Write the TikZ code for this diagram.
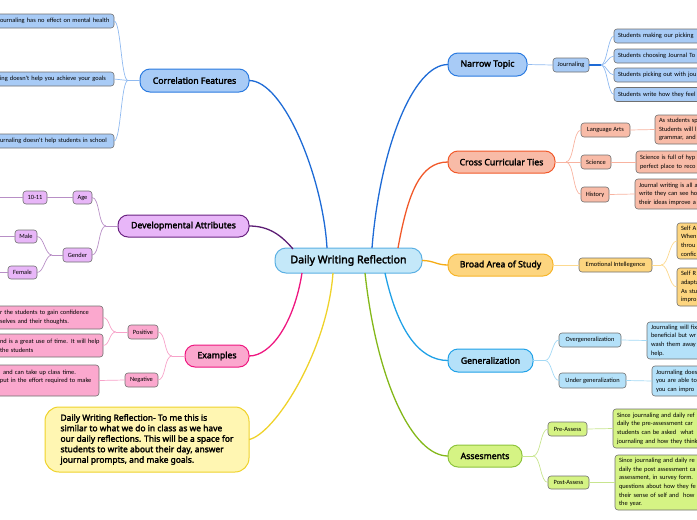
\documentclass[tikz,border=0pt]{standalone}
\usepackage{fontspec}
\setmainfont{Noto Sans}
\newfontfamily\boldf{Noto Sans}[FakeBold=2.4]
\newfontfamily\smallf{Carlito}
\usetikzlibrary{calc}
\definecolor{centralfill}{HTML}{C4E8F9}
\definecolor{centraldraw}{HTML}{5BB0E3}
\definecolor{bluefill}{HTML}{A8CBF6}
\definecolor{bluedraw}{HTML}{2B7BE0}
\definecolor{blueline}{HTML}{1E6BD6}
\definecolor{bluesub}{HTML}{90BAF0}
\definecolor{purplefill}{HTML}{E8B6F8}
\definecolor{purpledraw}{HTML}{6A2381}
\definecolor{purpleline}{HTML}{5C1D74}
\definecolor{purplesub}{HTML}{B88FC6}
\definecolor{pinkfill}{HTML}{FBA8CE}
\definecolor{pinkdraw}{HTML}{EE1780}
\definecolor{pinksub}{HTML}{F7A2C9}
\definecolor{orangefill}{HTML}{F8BBA7}
\definecolor{orangedraw}{HTML}{F1592A}
\definecolor{orangesub}{HTML}{F8B3A0}
\definecolor{goldfill}{HTML}{FDD57F}
\definecolor{golddraw}{HTML}{F6B52A}
\definecolor{goldline}{HTML}{F5AC16}
\definecolor{goldsub}{HTML}{FCD98F}
\definecolor{cyanfill}{HTML}{B4E1F9}
\definecolor{cyandraw}{HTML}{20A1E7}
\definecolor{cyansub}{HTML}{A3D9F5}
\definecolor{greenfill}{HTML}{D5F384}
\definecolor{greendraw}{HTML}{8DC43C}
\definecolor{greenline}{HTML}{84B81A}
\definecolor{greensub}{HTML}{C8E58F}
\definecolor{notefill}{HTML}{FFF6B2}
\definecolor{notedraw}{HTML}{EFD22A}
\definecolor{subborder}{HTML}{707070}
\tikzset{
  every node/.style={inner sep=0pt, outer sep=0pt},
  centralbox/.style={draw=centraldraw, fill=centralfill, line width=1pt, rounded corners=11pt,
    minimum width=147pt, minimum height=25pt, font=\boldf\fontsize{10.6}{12}\selectfont},
  mainbox/.style={draw, line width=1pt, rounded corners=10pt, minimum height=22pt,
    font=\boldf\fontsize{8.7}{10}\selectfont},
  subbox/.style={draw=subborder, line width=0.6pt, rounded corners=3pt, minimum height=14pt,
    inner xsep=4pt, font=\smallf\fontsize{6.4}{8.6}\selectfont},
  bluem/.style={mainbox, fill=bluefill, draw=bluedraw},
  blues/.style={subbox, fill=bluefill},
  purplem/.style={mainbox, fill=purplefill, draw=purpledraw},
  purples/.style={subbox, fill=purplefill},
  pinkm/.style={mainbox, fill=pinkfill, draw=pinkdraw},
  pinks/.style={subbox, fill=pinkfill},
  orangem/.style={mainbox, fill=orangefill, draw=orangedraw},
  oranges/.style={subbox, fill=orangefill},
  goldm/.style={mainbox, fill=goldfill, draw=golddraw},
  golds/.style={subbox, fill=goldfill},
  cyanm/.style={mainbox, fill=cyanfill, draw=cyandraw},
  cyans/.style={subbox, fill=cyanfill},
  greenm/.style={mainbox, fill=greenfill, draw=greendraw},
  greens/.style={subbox, fill=greenfill},
  notebox/.style={draw=notedraw, fill=notefill, line width=1pt, rounded corners=14pt,
    align=left, minimum width=204pt, minimum height=65pt,
    font=\boldf\fontsize{8.45}{10.5}\selectfont},
  rightcut/.style={anchor=west, align=left, text width=#1},
  leftcut/.style={anchor=east, align=left, text width=#1},
  mainline/.style={line width=1.3pt},
  subline/.style={line width=0.7pt},
}
\begin{document}
\begin{tikzpicture}[x=1pt,y=-1pt]
\useasboundingbox (0,0) rectangle (697,520);
\clip (0,0) rectangle (697,520);

% central
\node[centralbox] (c) at (348.5,260.5) {Daily Writing Reflection};

% Correlation Features
\node[bluem, minimum width=109pt, minimum height=23pt] (cf) at (194.5,80.5) {Correlation Features};
\node[blues, leftcut=110pt] (cf1) at (114,21) {\mbox{ournaling has no effect on mental health}};
\node[blues, leftcut=110pt] (cf2) at (114,79) {\mbox{ing doesn't help you achieve your goals}};
\node[blues, leftcut=110pt] (cf3) at (114,141) {\mbox{urnaling doesn't help students in school}};

% Narrow Topic
\node[bluem, minimum width=79pt, minimum height=23pt] (nt) at (487.5,64.5) {Narrow Topic};
\node[blues, minimum width=36pt] (jr) at (571,65) {Journaling};
\node[blues, rightcut=100pt] (jr1) at (614,36) {Students making our picking};
\node[blues, rightcut=100pt] (jr2) at (614,56) {Students choosing Journal To};
\node[blues, rightcut=100pt] (jr3) at (614,75) {Students picking out with jou};
\node[blues, rightcut=100pt] (jr4) at (614,94.5) {Students write how they feel};

% Cross Curricular Ties
\node[orangem, minimum width=107pt] (cct) at (501.5,162) {Cross Curricular Ties};
\node[oranges, minimum width=49pt] (la) at (605.5,130) {Language Arts};
\node[oranges, minimum width=30pt] (sci) at (596,162) {Science};
\node[oranges, minimum width=28pt, minimum height=15pt] (hist) at (595,194.5) {History};
\node[oranges, rightcut=60pt, minimum height=29pt] (lad) at (655,129.5) {As students sp\\Students will l\\grammar, and};
\node[oranges, rightcut=80pt, minimum height=22pt] (scid) at (636,162) {Science is full of hyp\\perfect place to reco};
\node[oranges, rightcut=80pt, minimum height=30pt] (histd) at (635,194) {Journal writing is all a\\write they can see ho\\their ideas improve a};

% Broad Area of Study
\node[goldm, minimum width=105pt] (bas) at (500.5,265) {Broad Area of Study};
\node[golds, minimum width=73pt] (ei) at (615.5,265) {Emotional Intellegence};
\node[golds, rightcut=40pt, minimum height=36pt] (eid1) at (677,241) {Self A\\When\\throu\\confic};
\node[golds, rightcut=40pt, minimum height=38pt] (eid2) at (677,287) {Self R\\adapta\\As stu\\impro};

% Generalization
\node[cyanm, minimum width=85pt, minimum height=23pt] (gen) at (490.5,360.5) {Generalization};
\node[cyans, minimum width=62pt] (og) at (590,340) {Overgeneralization};
\node[cyans, minimum width=67pt, minimum height=15pt] (ug) at (592.5,380.5) {Under generalization};
\node[cyans, rightcut=70pt, minimum height=37pt] (ogd) at (647,340.5) {Journaling will fix\\beneficial but wr\\wash them away\\help.};
\node[cyans, rightcut=70pt, minimum height=30pt] (ugd) at (652,381) {Journaling does\\you are able to\\you can impro};

% Assesments
\node[greenm, minimum width=74pt] (as) at (485,456) {Assesments};
\node[greens, minimum width=39pt] (pre) at (567.5,429) {Pre-Assess};
\node[greens, minimum width=41pt, minimum height=13pt] (post) at (568.5,482.5) {Post-Assess};
\node[greens, rightcut=100pt, minimum height=39pt] (pred) at (613,428.5) {Since journaling and daily ref\\daily the pre-assessment car\\students can be asked\ \ what\\journaling and how they think};
\node[greens, rightcut=100pt, minimum height=55pt] (postd) at (615,482.5) {Since journaling and daily re\\daily the post assessment ca\\assessment, in survey form.\\questions about how they fe\\their sense of self and\ \ how\\the year.};

% Developmental Attributes
\node[purplem, minimum width=131pt] (da) at (183.5,226) {Developmental Attributes};
\node[purples, minimum width=19pt, minimum height=13pt] (age) at (82.5,197.5) {Age};
\node[purples, minimum width=24pt, minimum height=13pt] (ten) at (35,197.5) {10-11};
\node[purples, minimum width=29pt] (gender) at (77.5,255) {Gender};
\node[purples, minimum width=22pt, minimum height=13pt] (male) at (26,236.5) {Male};
\node[purples, minimum width=29pt, minimum height=13pt] (female) at (22.5,272.5) {Female};
\coordinate (tenoff) at (-5,197.5);
\coordinate (maleoff) at (-5,236.5);
\coordinate (femaleoff) at (-5,272.5);

% Examples
\node[pinkm, minimum width=64pt] (ex) at (217,356) {Examples};
\node[pinks, minimum width=30pt] (pos) at (143,332) {Positive};
\node[pinks, minimum width=33pt] (neg) at (141.5,380) {Negative};
\node[pinks, leftcut=99pt, minimum height=23pt] (posd1) at (103,317.5) {\mbox{r the students to gain confidence}\\\mbox{selves and their thoughts.}};
\node[pinks, leftcut=99pt, minimum height=23pt] (posd2) at (103,345.5) {\mbox{nd is a great use of time. It will help}\\\mbox{the students}};
\node[pinks, leftcut=95pt, minimum height=31pt] (negd) at (99,380.5) {\mbox{\hspace*{3pt}and can take up class time.}\\\mbox{put in the effort required to make}\\\mbox{}};

% note
\node[notebox] (note) at (147,439.5) {Daily Writing Reflection- To me this is\\similar to what we do in class as we have\\our daily reflections. This will be a space for\\students to write about their day, answer\\journal prompts, and make goals.};

% main connectors
\draw[mainline, blueline] (cf.east) .. controls +(35,0) and +(-4,-70) .. ($(c.north)+(-21.5,0)$);
\draw[mainline, blueline] ($(c.north)+(23.5,0)$) .. controls +(8,-100) and +(-35,0) .. (nt.west);
\draw[mainline, orangedraw] ($(c.north)+(49.5,0)$) .. controls +(10,-55) and +(-28,0) .. (cct.west);
\draw[mainline, goldline] (c.east) .. controls +(12,0) and +(-12,0) .. (bas.west);
\draw[mainline, cyandraw] ($(c.south)+(36.5,0)$) .. controls +(12,55) and +(-30,0) .. (gen.west);
\draw[mainline, greenline] ($(c.south)+(16.5,0)$) .. controls +(12,110) and +(-35,0) .. (as.west);
\draw[mainline, notedraw] ($(c.south)+(-15.5,0)$) .. controls +(-6,80) and +(25,-5) .. (note.east);
\draw[mainline, pinkdraw] ($(c.south)+(-46.5,0)$) .. controls +(-8,50) and +(22,0) .. (ex.east);
\draw[mainline, purpleline] ($(c.north west)+(18,1)$) .. controls +(-12,-14) and +(20,0) .. (da.east);

% blue sub connectors
\draw[subline, bluesub] (cf.west) -- ++(-12,0) coordinate (cfj);
\foreach \n in {cf1,cf2,cf3} \draw[subline, bluesub] (cfj) .. controls +(-7,0) and +(7,0) .. (\n.east);
\draw[subline, bluesub] (nt.east) -- (jr.west);
\draw[line width=1.1pt, blueline] (jr.east) -- ++(12,0) coordinate (jrj);
\foreach \n in {jr1,jr2,jr3,jr4} \draw[subline, bluesub] (jrj) .. controls +(6,0) and +(-6,0) .. (\n.west);

% orange
\draw[subline, orangesub] (cct.east) -- ++(11,0) coordinate (cctj);
\foreach \n in {la,sci,hist} \draw[subline, orangesub] (cctj) .. controls +(8,0) and +(-8,0) .. (\n.west);
\draw[subline, orangesub] (la.east) -- (lad.west);
\draw[subline, orangesub] (sci.east) -- (scid.west);
\draw[subline, orangesub] (hist.east) -- (histd.west);

% gold
\draw[subline, goldsub] (bas.east) -- (ei.west);
\draw[subline, goldsub] (ei.east) -- ++(9,0) coordinate (eij);
\foreach \n in {eid1,eid2} \draw[subline, goldsub] (eij) .. controls +(8,0) and +(-8,0) .. (\n.west);

% cyan
\draw[subline, cyansub] (gen.east) -- ++(12,0) coordinate (genj);
\foreach \n in {og,ug} \draw[subline, cyansub] (genj) .. controls +(7,0) and +(-7,0) .. (\n.west);
\draw[subline, cyansub] (og.east) -- (ogd.west);
\draw[subline, cyansub] (ug.east) -- (ugd.west);

% green
\draw[subline, greensub] (as.east) -- ++(11,0) coordinate (asj);
\foreach \n in {pre,post} \draw[subline, greensub] (asj) .. controls +(8,0) and +(-8,0) .. (\n.west);
\draw[subline, greensub] (pre.east) -- (pred.west);
\draw[subline, greensub] (post.east) -- (postd.west);

% purple
\draw[subline, purplesub] (da.west) -- ++(-12,0) coordinate (daj);
\foreach \n in {age,gender} \draw[subline, purplesub] (daj) .. controls +(-8,0) and +(8,0) .. (\n.east);
\draw[subline, purplesub] (age.west) -- (ten.east);
\draw[subline, purplesub] (ten.west) -- (tenoff);
\draw[subline, purplesub] (gender.west) -- ++(-11,0) coordinate (gj);
\foreach \n in {male,female} \draw[subline, purplesub] (gj) .. controls +(-7,0) and +(7,0) .. (\n.east);
\draw[subline, purplesub] (male.west) -- (maleoff);
\draw[subline, purplesub] (female.west) -- (femaleoff);

% pink
\draw[subline, pinksub] (ex.west) -- ++(-13,0) coordinate (exj);
\foreach \n in {pos,neg} \draw[subline, pinksub] (exj) .. controls +(-8,0) and +(8,0) .. (\n.east);
\draw[subline, pinksub] (pos.west) -- ++(-12,0) coordinate (posj);
\foreach \n in {posd1,posd2} \draw[subline, pinksub] (posj) .. controls +(-7,0) and +(7,0) .. (\n.east);
\draw[subline, pinksub] (neg.west) -- (negd.east);
\end{tikzpicture}
\end{document}
